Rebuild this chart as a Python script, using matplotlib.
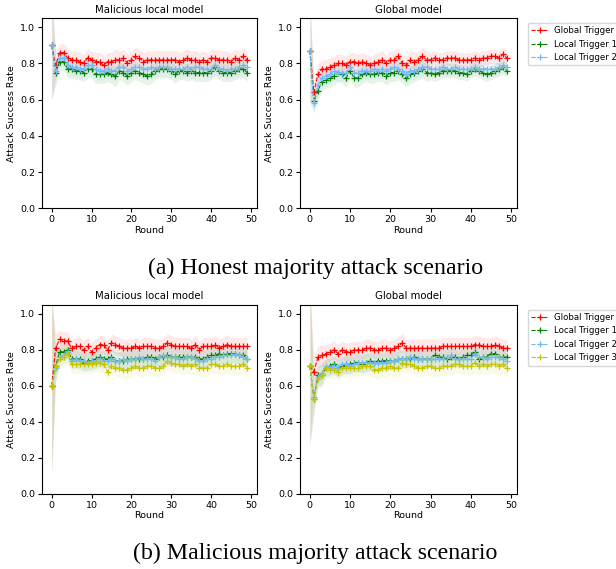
import matplotlib.pyplot as plt
import numpy as np

rounds = np.arange(50)

# (a) honest majority - malicious local model
a_loc_global = [0.90, 0.79, 0.86, 0.86, 0.83, 0.82, 0.82, 0.81, 0.80, 0.83,
                0.82, 0.81, 0.81, 0.79, 0.81, 0.81, 0.82, 0.82, 0.83, 0.80,
                0.82, 0.84, 0.83, 0.81, 0.82, 0.82, 0.82, 0.82, 0.82, 0.82,
                0.82, 0.82, 0.81, 0.82, 0.83, 0.82, 0.82, 0.81, 0.82, 0.81,
                0.83, 0.83, 0.82, 0.82, 0.82, 0.81, 0.83, 0.82, 0.84, 0.82]
a_loc_t1 = [0.90, 0.75, 0.81, 0.81, 0.77, 0.77, 0.76, 0.76, 0.75, 0.77,
            0.77, 0.74, 0.74, 0.74, 0.75, 0.74, 0.73, 0.76, 0.75, 0.73,
            0.75, 0.76, 0.75, 0.74, 0.73, 0.74, 0.76, 0.77, 0.77, 0.77,
            0.76, 0.74, 0.76, 0.76, 0.75, 0.76, 0.75, 0.75, 0.75, 0.75,
            0.76, 0.78, 0.76, 0.75, 0.75, 0.75, 0.76, 0.77, 0.77, 0.75]
a_loc_t2 = [0.90, 0.76, 0.83, 0.83, 0.79, 0.78, 0.78, 0.77, 0.77, 0.79,
            0.79, 0.77, 0.76, 0.76, 0.77, 0.76, 0.76, 0.78, 0.78, 0.76,
            0.77, 0.78, 0.78, 0.77, 0.77, 0.78, 0.77, 0.78, 0.78, 0.78,
            0.77, 0.77, 0.77, 0.77, 0.78, 0.77, 0.78, 0.78, 0.77, 0.77,
            0.77, 0.79, 0.77, 0.77, 0.76, 0.77, 0.77, 0.78, 0.79, 0.78]
a_loc_std = [0.30, 0.07, 0.05, 0.05, 0.05, 0.05, 0.05, 0.05, 0.05, 0.05,
             0.05, 0.05, 0.05, 0.05, 0.05, 0.05, 0.06, 0.05, 0.05, 0.05,
             0.05, 0.05, 0.05, 0.05, 0.05, 0.05, 0.05, 0.05, 0.05, 0.05,
             0.05, 0.05, 0.05, 0.05, 0.05, 0.05, 0.05, 0.05, 0.05, 0.05,
             0.05, 0.05, 0.05, 0.05, 0.05, 0.05, 0.05, 0.05, 0.05, 0.05]

# (a) honest majority - global model
a_glo_global = [0.87, 0.64, 0.74, 0.77, 0.77, 0.78, 0.79, 0.80, 0.80, 0.79,
                0.81, 0.81, 0.80, 0.81, 0.80, 0.79, 0.80, 0.81, 0.82, 0.80,
                0.82, 0.82, 0.84, 0.80, 0.79, 0.82, 0.81, 0.82, 0.84, 0.82,
                0.82, 0.83, 0.82, 0.82, 0.83, 0.83, 0.83, 0.82, 0.82, 0.82,
                0.82, 0.83, 0.82, 0.83, 0.83, 0.84, 0.84, 0.83, 0.85, 0.83]
a_glo_t1 = [0.87, 0.59, 0.65, 0.70, 0.71, 0.72, 0.73, 0.75, 0.74, 0.72,
            0.76, 0.72, 0.72, 0.74, 0.75, 0.74, 0.74, 0.75, 0.75, 0.73,
            0.75, 0.75, 0.76, 0.74, 0.72, 0.74, 0.75, 0.76, 0.77, 0.75,
            0.75, 0.74, 0.75, 0.76, 0.76, 0.76, 0.76, 0.75, 0.75, 0.74,
            0.76, 0.77, 0.76, 0.75, 0.74, 0.75, 0.76, 0.77, 0.78, 0.76]
a_glo_t2 = [0.87, 0.58, 0.68, 0.72, 0.73, 0.74, 0.76, 0.75, 0.75, 0.75,
            0.78, 0.75, 0.75, 0.76, 0.76, 0.76, 0.77, 0.76, 0.77, 0.76,
            0.77, 0.78, 0.77, 0.76, 0.74, 0.76, 0.76, 0.77, 0.78, 0.78,
            0.77, 0.77, 0.77, 0.78, 0.77, 0.77, 0.78, 0.77, 0.77, 0.77,
            0.77, 0.78, 0.77, 0.77, 0.77, 0.77, 0.77, 0.78, 0.79, 0.78]
a_glo_std = [0.28, 0.06, 0.06, 0.05, 0.05, 0.05, 0.05, 0.05, 0.05, 0.05,
             0.05, 0.05, 0.05, 0.05, 0.05, 0.05, 0.05, 0.05, 0.05, 0.05,
             0.05, 0.05, 0.05, 0.05, 0.05, 0.05, 0.05, 0.05, 0.05, 0.05,
             0.04, 0.04, 0.04, 0.04, 0.04, 0.04, 0.04, 0.04, 0.04, 0.04,
             0.04, 0.04, 0.04, 0.04, 0.04, 0.04, 0.04, 0.04, 0.04, 0.04]

# (b) malicious majority - malicious local model
b_loc_global = [0.60, 0.81, 0.86, 0.85, 0.85, 0.81, 0.82, 0.82, 0.80, 0.82,
                0.79, 0.81, 0.83, 0.83, 0.80, 0.84, 0.83, 0.82, 0.81, 0.81,
                0.81, 0.82, 0.81, 0.82, 0.82, 0.82, 0.81, 0.81, 0.82, 0.84,
                0.83, 0.82, 0.82, 0.82, 0.82, 0.81, 0.83, 0.80, 0.82, 0.82,
                0.82, 0.83, 0.81, 0.82, 0.83, 0.82, 0.82, 0.82, 0.82, 0.82]
b_loc_t1 = [0.60, 0.71, 0.79, 0.79, 0.80, 0.75, 0.75, 0.75, 0.73, 0.74,
            0.74, 0.75, 0.76, 0.75, 0.75, 0.76, 0.74, 0.74, 0.74, 0.75,
            0.75, 0.75, 0.75, 0.75, 0.76, 0.76, 0.75, 0.76, 0.76, 0.77,
            0.76, 0.76, 0.76, 0.76, 0.76, 0.76, 0.76, 0.75, 0.75, 0.76,
            0.77, 0.77, 0.78, 0.77, 0.78, 0.78, 0.78, 0.77, 0.77, 0.75]
b_loc_t2 = [0.60, 0.70, 0.76, 0.77, 0.79, 0.74, 0.75, 0.74, 0.74, 0.73,
            0.74, 0.74, 0.75, 0.74, 0.74, 0.75, 0.74, 0.74, 0.75, 0.74,
            0.75, 0.75, 0.76, 0.75, 0.75, 0.75, 0.74, 0.76, 0.77, 0.76,
            0.76, 0.76, 0.75, 0.75, 0.76, 0.76, 0.75, 0.74, 0.74, 0.75,
            0.75, 0.76, 0.76, 0.77, 0.77, 0.77, 0.78, 0.77, 0.76, 0.75]
b_loc_t3 = [0.60, 0.71, 0.75, 0.76, 0.78, 0.72, 0.72, 0.72, 0.72, 0.72,
            0.72, 0.73, 0.73, 0.72, 0.68, 0.71, 0.70, 0.70, 0.69, 0.69,
            0.70, 0.71, 0.70, 0.70, 0.71, 0.71, 0.70, 0.70, 0.71, 0.74,
            0.73, 0.72, 0.72, 0.71, 0.72, 0.71, 0.72, 0.70, 0.70, 0.70,
            0.72, 0.72, 0.71, 0.71, 0.72, 0.71, 0.71, 0.71, 0.72, 0.70]
b_loc_std = [0.49, 0.08, 0.05, 0.05, 0.05, 0.05, 0.05, 0.05, 0.05, 0.05,
             0.05, 0.05, 0.05, 0.05, 0.05, 0.05, 0.05, 0.05, 0.05, 0.05,
             0.05, 0.05, 0.05, 0.05, 0.05, 0.05, 0.05, 0.05, 0.05, 0.05,
             0.05, 0.05, 0.05, 0.05, 0.05, 0.05, 0.05, 0.05, 0.05, 0.05,
             0.05, 0.05, 0.05, 0.05, 0.05, 0.05, 0.05, 0.05, 0.05, 0.05]

# (b) malicious majority - global model
b_glo_global = [0.71, 0.68, 0.76, 0.77, 0.78, 0.79, 0.80, 0.78, 0.80, 0.79,
                0.79, 0.80, 0.80, 0.80, 0.81, 0.81, 0.80, 0.80, 0.81, 0.81,
                0.80, 0.81, 0.82, 0.84, 0.81, 0.81, 0.81, 0.81, 0.81, 0.81,
                0.81, 0.81, 0.81, 0.82, 0.82, 0.82, 0.82, 0.82, 0.82, 0.82,
                0.82, 0.83, 0.83, 0.82, 0.82, 0.82, 0.83, 0.82, 0.81, 0.81]
b_glo_t1 = [0.71, 0.53, 0.66, 0.66, 0.70, 0.71, 0.72, 0.70, 0.71, 0.72,
            0.72, 0.73, 0.73, 0.72, 0.73, 0.74, 0.73, 0.74, 0.74, 0.74,
            0.74, 0.74, 0.75, 0.75, 0.75, 0.75, 0.76, 0.75, 0.75, 0.75,
            0.75, 0.77, 0.76, 0.76, 0.75, 0.76, 0.76, 0.75, 0.76, 0.77,
            0.77, 0.79, 0.75, 0.76, 0.76, 0.78, 0.78, 0.76, 0.76, 0.76]
b_glo_t2 = [0.71, 0.54, 0.65, 0.67, 0.71, 0.70, 0.71, 0.70, 0.72, 0.72,
            0.71, 0.72, 0.73, 0.73, 0.73, 0.73, 0.73, 0.73, 0.73, 0.73,
            0.74, 0.74, 0.75, 0.75, 0.75, 0.76, 0.75, 0.75, 0.75, 0.75,
            0.75, 0.75, 0.75, 0.75, 0.76, 0.77, 0.75, 0.75, 0.75, 0.75,
            0.75, 0.78, 0.76, 0.76, 0.75, 0.76, 0.76, 0.76, 0.75, 0.74]
b_glo_t3 = [0.71, 0.53, 0.64, 0.66, 0.70, 0.69, 0.69, 0.68, 0.70, 0.70,
            0.70, 0.70, 0.70, 0.71, 0.71, 0.71, 0.69, 0.69, 0.70, 0.70,
            0.71, 0.70, 0.70, 0.73, 0.72, 0.72, 0.71, 0.70, 0.70, 0.71,
            0.71, 0.70, 0.70, 0.71, 0.71, 0.71, 0.72, 0.72, 0.71, 0.71,
            0.71, 0.73, 0.71, 0.72, 0.71, 0.72, 0.72, 0.71, 0.72, 0.70]
b_glo_std = [0.44, 0.08, 0.06, 0.06, 0.05, 0.05, 0.05, 0.05, 0.05, 0.05,
             0.05, 0.05, 0.05, 0.05, 0.05, 0.05, 0.05, 0.05, 0.05, 0.05,
             0.05, 0.05, 0.05, 0.05, 0.05, 0.05, 0.05, 0.05, 0.05, 0.05,
             0.05, 0.05, 0.05, 0.05, 0.05, 0.05, 0.05, 0.05, 0.05, 0.05,
             0.05, 0.05, 0.05, 0.05, 0.05, 0.05, 0.05, 0.05, 0.05, 0.05]

labels = ['Global Trigger', 'Local Trigger 1', 'Local Trigger 2', 'Local Trigger 3']
colors = ['red', 'green', '#6fb7ff', '#c4c400']

fs = 6.8


def panel(ax, series, std, title, legend=False):
    for i, s in enumerate(series):
        s = np.array(s)
        sd = np.array(std)
        ax.plot(rounds, s, '--', marker='+', color=colors[i], lw=0.8, ms=4,
                mew=0.9, label=labels[i])
        ax.fill_between(rounds, s - sd, s + sd, color=colors[i], alpha=0.09, lw=0)
    ax.set_ylim(0, 1.05)
    ax.set_xlim(-2.45, 51.45)
    ax.set_xticks([0, 10, 20, 30, 40, 50])
    ax.set_title(title, fontsize=7.3, pad=4)
    ax.set_xlabel('Round', fontsize=fs, labelpad=1)
    ax.set_ylabel('Attack Success Rate', fontsize=fs, labelpad=3)
    ax.tick_params(labelsize=fs, length=3, pad=2)
    if legend:
        ax.legend(loc='upper left', bbox_to_anchor=(1.05, 0.975), borderaxespad=0,
                  fontsize=6.2, handlelength=2.0, handletextpad=0.7,
                  labelspacing=0.5)


fig = plt.figure(figsize=(6.16, 5.69), dpi=100)

ax1 = fig.add_axes([0.068, 0.634, 0.349, 0.334])
ax2 = fig.add_axes([0.487, 0.634, 0.352, 0.334])
ax3 = fig.add_axes([0.068, 0.132, 0.349, 0.332])
ax4 = fig.add_axes([0.487, 0.132, 0.352, 0.332])

panel(ax1, [a_loc_global, a_loc_t1, a_loc_t2], a_loc_std, 'Malicious local model')
panel(ax2, [a_glo_global, a_glo_t1, a_glo_t2], a_glo_std, 'Global model', legend=True)
panel(ax3, [b_loc_global, b_loc_t1, b_loc_t2, b_loc_t3], b_loc_std, 'Malicious local model')
panel(ax4, [b_glo_global, b_glo_t1, b_glo_t2, b_glo_t3], b_glo_std, 'Global model', legend=True)

fig.text(0.512, 1 - 268 / 569, '(a) Honest majority attack scenario', ha='center', va='center',
         family='Liberation Serif', fontsize=17.2)
fig.text(0.512, 1 - 553 / 569, '(b) Malicious majority attack scenario', ha='center', va='center',
         family='Liberation Serif', fontsize=17.2)

fig.savefig('out.png', dpi=100)
